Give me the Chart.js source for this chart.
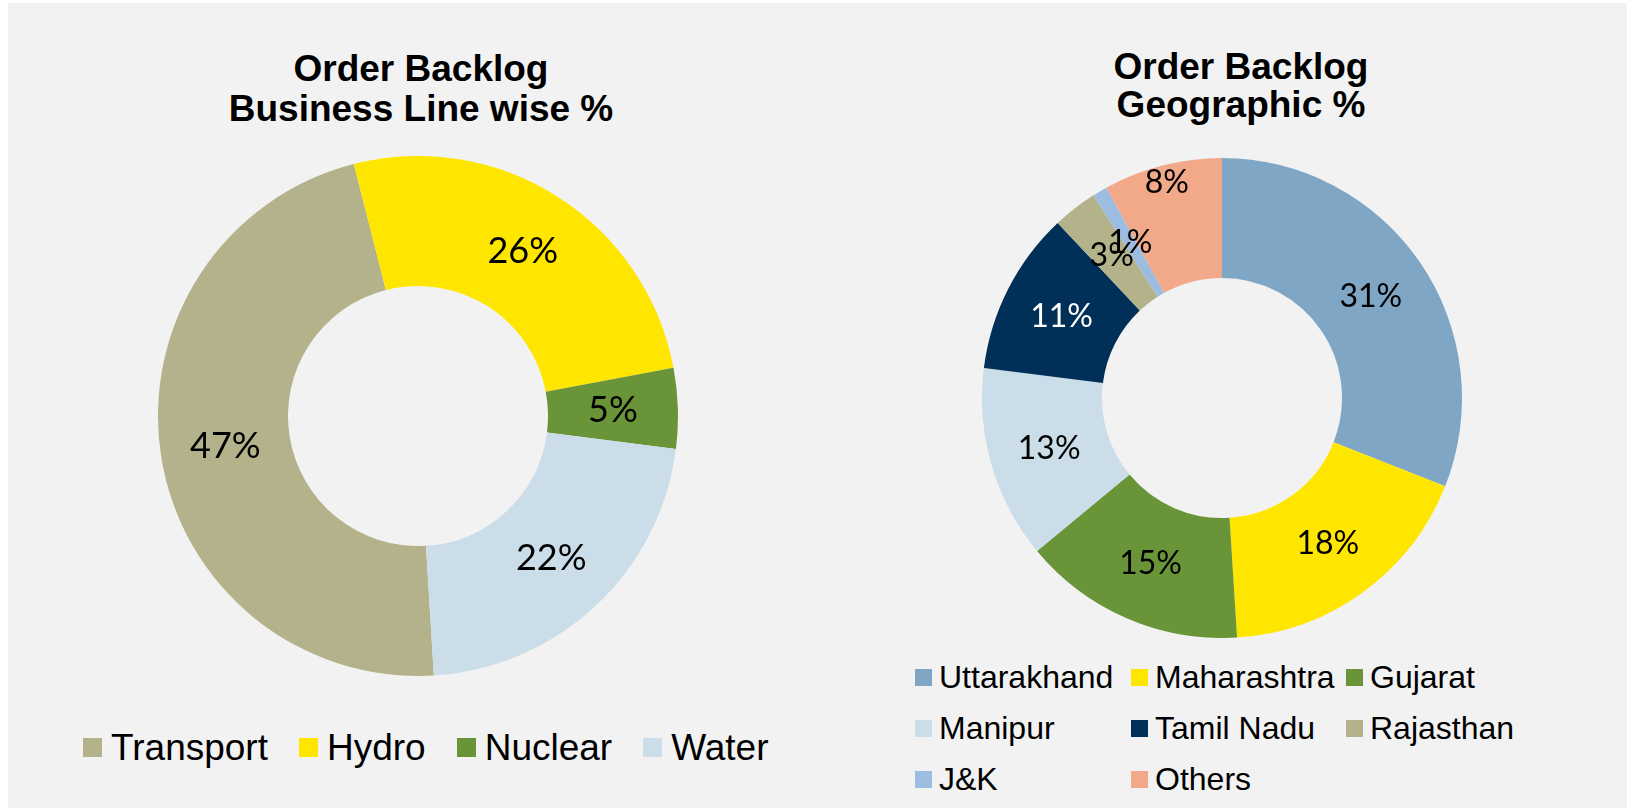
<!DOCTYPE html>
<html>
<head>
<meta charset="utf-8">
<script src="https://cdn.jsdelivr.net/npm/chart.js@4.4.1/dist/chart.umd.min.js"></script>
<style>
  body { margin:0; width:1627px; height:811px; overflow:hidden; position:relative; background:#fff;
         font-family:"Liberation Sans", Arial, sans-serif; color:#000; }
  #panel { position:absolute; left:8px; top:3px; width:1619px; height:805px; background:#f2f2f2; }
  .title { position:absolute; width:600px; font-weight:bold; font-size:37px; line-height:40px; text-align:center; }
  .wrap { position:absolute; }
  .legend { position:absolute; }
  .legend .item { display:inline-flex; align-items:center; white-space:nowrap; }
  .legend .sw { display:inline-block; }
  #legendLeft { left:83px; top:727px; font-size:37px; line-height:36px; }
  #legendLeft .item { margin-right:31px; }
  #legendLeft .sw { width:19px; height:19px; margin-right:9px; }
  #legendRight { left:915px; top:652px; font-size:32px; line-height:51px;
                 display:grid; grid-template-columns:216px 215px 200px; }
  #legendRight .sw { width:17px; height:17px; margin-right:7px; }
</style>
</head>
<body>
<div id="panel"></div>

<div class="title" style="left:121px; top:49px;">Order Backlog<br>Business Line wise %</div>
<div class="title" style="left:941px; top:48px; line-height:38px;">Order Backlog<br>Geographic %</div>

<div class="wrap" style="left:158px; top:156px;"><canvas id="businessChart" width="520" height="520"></canvas></div>
<div class="wrap" style="left:982px; top:158px;"><canvas id="geoChart" width="480" height="480"></canvas></div>

<div class="legend" id="legendLeft"></div>
<div class="legend" id="legendRight"></div>

<script>
// business line wise split
const businessLabels = ["Transport", "Hydro", "Nuclear", "Water"];
const businessValues = [47, 26, 5, 22];
const businessColors = ["#b3b28a", "#ffe600", "#6a9438", "#cbdde8"];

// geographic split
const geoLabels = ["Uttarakhand", "Maharashtra", "Gujarat", "Manipur", "Tamil Nadu", "Rajasthan", "J&K", "Others"];
const geoValues = [31, 18, 15, 13, 11, 3, 1, 8];
const geoColors = ["#7fa7c5", "#ffe600", "#6a9438", "#cbdde8", "#003057", "#b3b28a", "#9dbde0", "#f2a98a"];

// draws "xx%" in the middle of each ring segment
const pctLabels = {
  id: 'pctLabels',
  afterDatasetsDraw(chart, args, opts) {
    const ctx = chart.ctx;
    const ds = chart.data.datasets[0];
    chart.getDatasetMeta(0).data.forEach((arc, i) => {
      const p = arc.getProps(['startAngle', 'endAngle', 'innerRadius', 'outerRadius', 'x', 'y'], true);
      const mid = (p.startAngle + p.endAngle) / 2;
      const r = (p.innerRadius + p.outerRadius) / 2 + ((opts.push && opts.push[i]) || 0);
      ctx.save();
      ctx.font = opts.size + 'px Lato, "Open Sans", sans-serif';
      ctx.fillStyle = (opts.colors && opts.colors[i]) || '#000';
      ctx.textAlign = 'center';
      ctx.textBaseline = 'middle';
      ctx.fillText(ds.data[i] + '%', p.x + Math.cos(mid) * r, p.y + Math.sin(mid) * r);
      ctx.restore();
    });
  }
};

function doughnutChart(id, labels, values, colors, rotation, labelOpts) {
  return new Chart(id, {
    type: "doughnut",
    data: {
      labels: labels,
      datasets: [{
        data: values,
        backgroundColor: colors,
        borderWidth: 0,
        hoverOffset: 0
      }]
    },
    options: {
      responsive: false,
      animation: false,
      cutout: "50%",
      rotation: rotation,
      layout: { padding: 0 },
      plugins: {
        legend: { display: false },
        tooltip: { enabled: false },
        pctLabels: labelOpts
      }
    },
    plugins: [pctLabels]
  });
}

function htmlLegend(chart, el) {
  const ds = chart.data.datasets[0];
  chart.data.labels.forEach((lab, i) => {
    const item = document.createElement('span');
    item.className = 'item';
    const sw = document.createElement('span');
    sw.className = 'sw';
    sw.style.background = ds.backgroundColor[i];
    item.appendChild(sw);
    item.appendChild(document.createTextNode(lab));
    el.appendChild(item);
  });
}

const businessChart = doughnutChart("businessChart", businessLabels, businessValues, businessColors, 176.5,
  { size: 36 });
const geoChart = doughnutChart("geoChart", geoLabels, geoValues, geoColors, 0,
  { size: 32, colors: ["#000", "#000", "#000", "#000", "#fff", "#000", "#000", "#000"], push: [0, 0, 0, 0, 0, 0, 0, 42] });

htmlLegend(businessChart, document.getElementById('legendLeft'));
htmlLegend(geoChart, document.getElementById('legendRight'));
</script>
</body>
</html>
